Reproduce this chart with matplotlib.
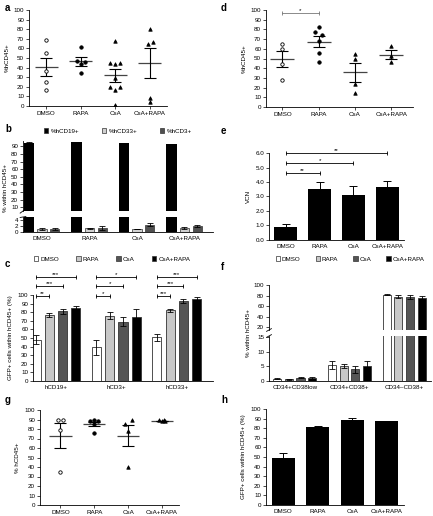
import numpy as np
import matplotlib
matplotlib.use("Agg")
import matplotlib.pyplot as plt
from matplotlib.patches import Patch

plt.rcParams["font.family"] = ["Liberation Sans", "DejaVu Sans"]
plt.rcParams["font.size"] = 4.5
FS = 4.5

# ---- data ----
treatments = ["DMSO", "RAPA", "CsA", "CsA+RAPA"]

# a: %hCD45+ per mouse
a_points = [[69, 55, 36, 25, 17],
            [61, 47, 46, 44, 34],
            [68, 45, 44, 45, 29, 20, 17, 20, 1],
            [80, 67, 65, 8, 4]]
a_spread = [[0, 0, 0, 0, 0],
            [0, -0.12, 0.12, 0, 0],
            [0, -0.15, 0, 0.15, 0, -0.15, 0, 0.15, 0],
            [0, 0.1, -0.05, 0, 0]]

# d: %hCD45+ per mouse
d_points = [[65, 60, 44, 28],
            [82, 77, 74, 68, 56, 46],
            [55, 50, 24, 14],
            [63, 53, 46]]
d_spread = [[0, 0, 0, 0],
            [0, -0.1, 0.1, 0, 0, 0],
            [0, 0, 0, 0],
            [0, 0, 0]]

# g: % hCD45+ per mouse
g_points = [[89, 89, 79, 35],
            [88, 89, 88, 85, 76],
            [89, 85, 78, 40],
            [89, 88, 88, 89]]
g_spread = [[-0.08, 0.08, 0, 0],
            [-0.12, 0, 0.12, 0, 0],
            [0.1, -0.08, 0, 0],
            [-0.1, 0, 0.1, 0.05]]

# b: lineage within hCD45+
b_series = ["%hCD19+", "%hCD33+", "%hCD3+"]
b_cd19 = [95, 96, 94, 93]
b_cd19_err = [0.4, 0.3, 0.4, 0.4]
b_cd33 = [1.0, 1.3, 1.0, 1.4]
b_cd33_err = [0.2, 0.15, 0.1, 0.4]
b_cd3 = [1.1, 1.4, 2.5, 2.0]
b_cd3_err = [0.3, 0.7, 0.6, 0.4]

# c: GFP+ cells within hCD45+ per lineage
c_groups = ["hCD19+", "hCD3+", "hCD33+"]
c_vals = {"DMSO": [48, 39, 51], "RAPA": [77, 76, 82],
          "CsA": [81, 69, 93], "CsA+RAPA": [85, 75, 95]}
c_errs = {"DMSO": [5, 9, 4], "RAPA": [2, 4, 2],
          "CsA": [3, 5, 2.5], "CsA+RAPA": [2.5, 9, 3]}
c_stars = [["**", "***", "***"], ["*", "*", "*"], ["***", "***", "***"]]

# e: VCN
e_vals = [0.9, 3.55, 3.1, 3.65]
e_errs = [0.18, 0.45, 0.6, 0.45]
e_stars = ["**", "*", "**"]

# f: CD34/CD38 subsets within hCD45+
f_groups = ["CD34+CD38low", "CD34+CD38+", "CD34\u2013CD38+"]
f_vals = {"DMSO": [0.8, 5.5, 82], "RAPA": [0.6, 5.3, 78],
          "CsA": [1.2, 4.0, 78], "CsA+RAPA": [1.0, 5.0, 76]}
f_errs = {"DMSO": [0.2, 1.4, 1.5], "RAPA": [0.1, 0.7, 3],
          "CsA": [0.3, 1.2, 3.5], "CsA+RAPA": [0.3, 2.0, 2.5]}

# h: GFP+ cells within hCD45+
h_vals = [49, 81, 89, 87]
h_errs = [5.5, 0.8, 1.5, 0.6]

colors = {"DMSO": "white", "RAPA": "#c8c8c8", "CsA": "#555555", "CsA+RAPA": "black"}
markers = [("o", "white"), ("o", "black"), ("^", "black"), ("^", "black")]

W, H = 433, 516


def box(x0, y0, x1, y1):
    return [x0 / W, 1 - y1 / H, (x1 - x0) / W, (y1 - y0) / H]


def style(ax, xticks=True):
    for s in ["top", "right"]:
        ax.spines[s].set_visible(False)
    for s in ["left", "bottom"]:
        ax.spines[s].set_linewidth(0.6)
    ax.tick_params(labelsize=FS, length=2, width=0.5, pad=1.5)
    if not xticks:
        ax.tick_params(axis="x", length=0, pad=3)


def bracket(ax, x1, x2, y, text, color="black"):
    ax.plot([x1, x2], [y, y], color=color, lw=0.6, marker="|", ms=3,
            mew=0.6, clip_on=False)
    ax.text((x1 + x2) / 2, y, text, ha="center", va="bottom", fontsize=FS,
            clip_on=False)


def dot_plot(ax, points, spread):
    for i, (vals, offs) in enumerate(zip(points, spread)):
        vals = np.array(vals, dtype=float)
        x = i + 1 + np.array(offs)
        mk, fc = markers[i]
        ax.scatter(x, vals, marker=mk, s=6, facecolors=fc, edgecolors="black",
                   linewidths=0.6, zorder=3)
        m = vals.mean()
        se = vals.std(ddof=1) / np.sqrt(len(vals))
        ax.hlines(m, i + 1 - 0.33, i + 1 + 0.33, color="#444444", lw=0.9)
        ax.errorbar(i + 1, m, yerr=se, color="black", lw=0.8, capsize=4.3,
                    capthick=0.8)
    ax.set_xticks(range(1, 5))
    ax.set_xticklabels(treatments)
    ax.set_ylim(0, 100)
    ax.set_yticks(range(0, 101, 10))
    style(ax)


def break_marks(ax_top, ax_bot):
    kw = dict(color="black", lw=0.6, clip_on=False)
    d = 0.015
    ax_top.plot([-d, d], [-0.03, 0.03], transform=ax_top.transAxes, **kw)
    ax_bot.plot([-d, d], [0.97, 1.03], transform=ax_bot.transAxes, **kw)


fig = plt.figure(figsize=(W / 100, H / 100), dpi=100)

# ---- a ----
ax = fig.add_axes(box(29, 10, 167, 106))
dot_plot(ax, a_points, a_spread)
ax.set_xlim(0.5, 4.5)
ax.set_ylabel("%hCD45+", labelpad=3, fontsize=FS)

# ---- d ----
ax = fig.add_axes(box(266, 10, 413, 107))
dot_plot(ax, d_points, d_spread)
ax.set_xlim(0.55, 4.6)
ax.set_ylabel("%hCD45+", labelpad=3, fontsize=FS)
bracket(ax, 1, 2, 96.5, "*", color="#777777")

# ---- g ----
ax = fig.add_axes(box(40, 410, 179, 505))
dot_plot(ax, g_points, g_spread)
ax.set_xlim(0.4, 4.5)
ax.set_ylabel("% hCD45+", labelpad=3, fontsize=FS)

# ---- b (broken axis) ----
b_top = fig.add_axes(box(23, 141, 213, 211))
b_bot = fig.add_axes(box(23, 217, 213, 232))
xb = np.arange(4)
for axb in (b_top, b_bot):
    axb.bar(xb - 0.27, b_cd19, 0.22, color="black", yerr=b_cd19_err,
            error_kw=dict(lw=0.6, capsize=2, capthick=0.6))
    axb.bar(xb, b_cd33, 0.19, color="#d0d0d0", edgecolor="#333333", lw=0.5,
            yerr=b_cd33_err, error_kw=dict(lw=0.6, capsize=2, capthick=0.6))
    axb.bar(xb + 0.27, b_cd3, 0.19, color="#505050", edgecolor="#333333", lw=0.5,
            yerr=b_cd3_err, error_kw=dict(lw=0.6, capsize=2, capthick=0.6))
    axb.set_xlim(-0.4, 3.6)
    style(axb, xticks=False)
b_top.set_ylim(5, 97)
b_top.set_yticks(range(10, 91, 10))
b_top.spines["bottom"].set_visible(False)
b_top.set_xticks([])
b_bot.set_ylim(0, 5)
b_bot.set_yticks([0, 2, 4])
b_bot.set_xticks(xb)
b_bot.set_xticklabels(treatments)
break_marks(b_top, b_bot)
fig.text(6 / W, 1 - 188 / H, "% within hCD45+", rotation=90, ha="center",
         va="center", fontsize=FS)
fig.legend([Patch(facecolor=c, edgecolor="#333333", lw=0.5)
            for c in ["black", "#d0d0d0", "#505050"]], b_series,
           loc="center", bbox_to_anchor=(118 / W, 1 - 131 / H), ncol=3,
           frameon=False, fontsize=FS, handlelength=0.7, handleheight=0.7,
           handletextpad=0.4, columnspacing=3.6)

# ---- c ----
ax = fig.add_axes(box(33, 295, 213, 381))
xc = np.arange(3)
offs = [-0.33, -0.11, 0.11, 0.33]
for k, t in enumerate(treatments):
    ax.bar(xc + offs[k], c_vals[t], 0.15, color=colors[t], edgecolor="#333333",
           lw=0.6, yerr=c_errs[t], error_kw=dict(lw=0.6, capsize=2.5, capthick=0.6))
for g in range(3):
    for j, lvl in enumerate([99, 110, 121]):
        bracket(ax, g + offs[0], g + offs[j + 1], lvl, c_stars[g][j])
ax.set_xlim(-0.38, 2.6)
ax.set_ylim(0, 100)
ax.set_yticks(range(0, 101, 10))
ax.set_xticks(xc)
ax.set_xticklabels(c_groups)
ax.set_ylabel("GFP+ cells within hCD45+ (%)", labelpad=3, fontsize=FS)
style(ax, xticks=False)

legend_handles = [Patch(facecolor=colors[t], edgecolor="#333333", lw=0.5)
                  for t in treatments]
fig.legend(legend_handles, treatments, loc="center",
           bbox_to_anchor=(112 / W, 1 - 259 / H), ncol=4, frameon=False,
           fontsize=FS, handlelength=0.7, handleheight=0.7, handletextpad=0.3,
           columnspacing=2.8)

# ---- e ----
ax = fig.add_axes(box(269, 153, 404, 240))
xe = np.arange(1, 5)
ax.bar(xe, e_vals, 0.68, color="black",
       yerr=[np.zeros(4), e_errs], error_kw=dict(lw=0.7, capsize=3, capthick=0.7))
for j, lvl in enumerate([4.6, 5.3, 6.0]):
    bracket(ax, 1, j + 2, lvl, e_stars[j])
ax.set_xlim(0.5, 4.5)
ax.set_ylim(0, 6)
ax.set_yticks(np.arange(0, 6.1, 1.0))
ax.set_yticklabels([f"{v:.1f}" for v in np.arange(0, 6.1, 1.0)])
ax.set_xticks(xe)
ax.set_xticklabels(treatments)
ax.set_ylabel("VCN", labelpad=3, fontsize=FS)
style(ax, xticks=False)
fig.legend(legend_handles, treatments, loc="center",
           bbox_to_anchor=(350 / W, 1 - 259 / H), ncol=4, frameon=False,
           fontsize=FS, handlelength=0.7, handleheight=0.7, handletextpad=0.3,
           columnspacing=2.4)

# ---- f (broken axis) ----
f_top = fig.add_axes(box(269, 285, 431, 330))
f_bot = fig.add_axes(box(269, 336, 431, 381))
xf = np.arange(3)
foffs = [-0.32, -0.106, 0.106, 0.32]
for axf in (f_top, f_bot):
    for k, t in enumerate(treatments):
        axf.bar(xf + foffs[k], f_vals[t], 0.15, color=colors[t],
                edgecolor="#333333", lw=0.6, yerr=f_errs[t],
                error_kw=dict(lw=0.6, capsize=2, capthick=0.6))
    axf.set_xlim(-0.47, 2.49)
    style(axf, xticks=False)
f_top.set_ylim(15, 100)
f_top.set_yticks(range(20, 101, 20))
f_top.spines["bottom"].set_visible(False)
f_top.set_xticks([])
f_bot.set_ylim(0, 15.5)
f_bot.set_yticks([0, 5, 10, 15])
f_bot.set_xticks(xf)
f_bot.set_xticklabels(f_groups)
break_marks(f_top, f_bot)
fig.text(248 / W, 1 - 333 / H, "% within hCD45+", rotation=90, ha="center",
         va="center", fontsize=FS)

# ---- h ----
ax = fig.add_axes(box(266, 409, 404, 505))
ax.bar(xe, h_vals, 0.68, color="black",
       yerr=[np.zeros(4), h_errs], error_kw=dict(lw=0.7, capsize=3, capthick=0.7))
ax.set_xlim(0.5, 4.5)
ax.set_ylim(0, 100)
ax.set_yticks(range(0, 101, 10))
ax.set_xticks(xe)
ax.set_xticklabels(treatments)
ax.set_ylabel("GFP+ cells within hCD45+ (%)", labelpad=3, fontsize=FS)
style(ax, xticks=False)

# ---- panel letters ----
for letter, (px, py) in {"a": (5, 8), "b": (5, 129), "c": (5, 264), "d": (221, 8),
                         "e": (221, 131), "f": (221, 267), "g": (5, 400),
                         "h": (221, 400)}.items():
    fig.text(px / W, 1 - py / H, letter, fontsize=7, fontweight="bold",
             ha="left", va="center")

fig.savefig("out.png", dpi=100)
